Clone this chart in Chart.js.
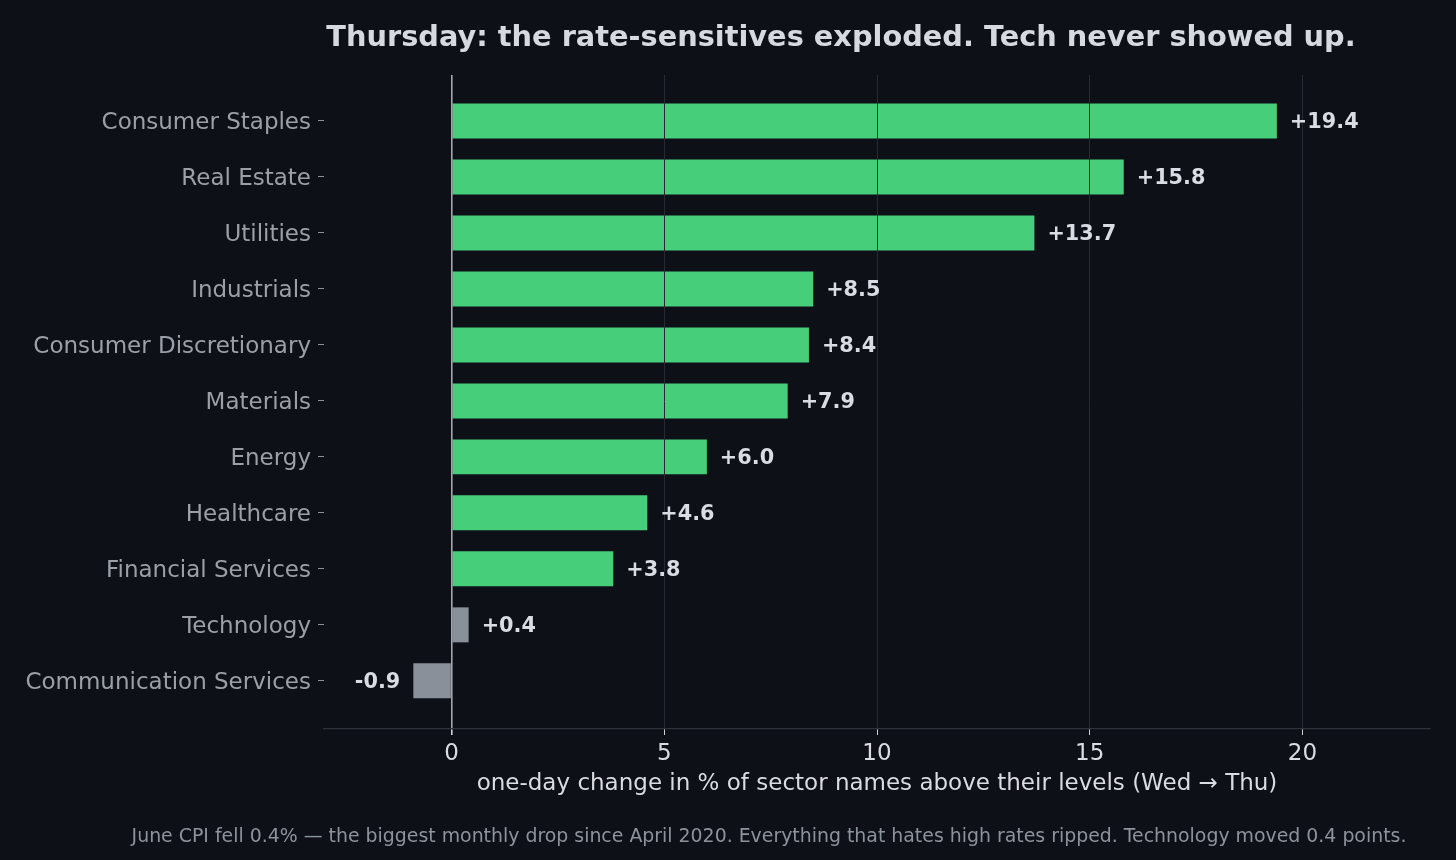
<!DOCTYPE html>
<html>
<head>
<meta charset="utf-8">
<title>Thursday sector breadth</title>
<script src="https://cdn.jsdelivr.net/npm/chart.js@4.4.1/dist/chart.umd.min.js"></script>
<style>
    html, body { margin: 0; padding: 0; background: #0d1017; }
    canvas { display: block; }
</style>
</head>
<body>
<canvas id="sectorChart" width="1456" height="860"></canvas>
<script>
// Data
const sectors = [
    'Consumer Staples', 'Real Estate', 'Utilities', 'Industrials',
    'Consumer Discretionary', 'Materials', 'Energy', 'Healthcare',
    'Financial Services', 'Technology', 'Communication Services'
];
const changes = [19.4, 15.8, 13.7, 8.5, 8.4, 7.9, 6.0, 4.6, 3.8, 0.4, -0.9];
const mutedSectors = ['Technology', 'Communication Services'];
const xTicks = [0, 5, 10, 15, 20];

const titleText = 'Thursday: the rate-sensitives exploded. Tech never showed up.';
const xAxisTitle = 'one-day change in % of sector names above their levels (Wed \u2192 Thu)';
const footnote = 'June CPI fell 0.4% \u2014 the biggest monthly drop since April 2020. Everything that hates high rates ripped. Technology moved 0.4 points.';

const FONT = "'DejaVu Sans', 'Noto Sans', sans-serif";
const BG = '#0d1017';
const GREEN = '#46ce7a';
const GREY = '#8a9099';

// paint background + title + footnote
const decorPlugin = {
    id: 'decor',
    beforeDraw(chart) {
        const ctx = chart.ctx;
        ctx.save();
        ctx.fillStyle = BG;
        ctx.fillRect(0, 0, chart.width, chart.height);
        ctx.restore();
    },
    afterDraw(chart) {
        const ctx = chart.ctx;
        ctx.save();
        ctx.textAlign = 'center';
        ctx.textBaseline = 'middle';
        ctx.fillStyle = '#d6dae0';
        ctx.font = `bold 28.8px ${FONT}`;
        ctx.fillText(titleText, 841, 39);
        ctx.fillStyle = '#8d939b';
        ctx.font = `18.9px ${FONT}`;
        ctx.fillText(footnote, 769, 837);
        ctx.restore();
    }
};

// value labels next to each bar (drawn last so they sit over the grid)
const valueLabels = {
    id: 'valueLabels',
    afterDraw(chart) {
        const ctx = chart.ctx;
        const meta = chart.getDatasetMeta(0);
        ctx.save();
        ctx.font = `bold 20.8px ${FONT}`;
        ctx.fillStyle = '#d8dce3';
        ctx.textBaseline = 'middle';
        meta.data.forEach((bar, i) => {
            const v = changes[i];
            const txt = (v >= 0 ? '+' : '') + v.toFixed(1);
            if (v >= 0) {
                ctx.textAlign = 'left';
                ctx.fillText(txt, bar.x + 13, bar.y + 1.5);
            } else {
                ctx.textAlign = 'right';
                ctx.fillText(txt, bar.x - 13, bar.y + 1.5);
            }
        });
        ctx.restore();
    }
};

const points = sectors.map((s, i) => ({ x: changes[i], y: i }));

new Chart(document.getElementById('sectorChart'), {
    type: 'bar',
    data: {
        datasets: [{
            data: points,
            backgroundColor: ctx => mutedSectors.includes(sectors[ctx.dataIndex]) ? GREY : GREEN,
            borderWidth: 0,
            categoryPercentage: 1,
            barPercentage: 0.625
        }]
    },
    options: {
        indexAxis: 'y',
        responsive: false,
        animation: false,
        layout: { padding: { top: 75, right: 26, bottom: 0, left: 0 } },
        plugins: {
            legend: { display: false },
            tooltip: { enabled: false }
        },
        scales: {
            x: {
                type: 'linear',
                min: -3,
                max: 23,
                afterBuildTicks: scale => { scale.ticks = xTicks.map(v => ({ value: v })); },
                afterFit: scale => { scale.height = 131; },
                ticks: {
                    color: '#d9dce0',
                    font: { family: FONT, size: 23 },
                    padding: 5
                },
                grid: {
                    z: 1,
                    color: ctx => ctx.tick && ctx.tick.value === 0 ? '#a3a7ad' : '#262b33',
                    lineWidth: ctx => ctx.tick && ctx.tick.value === 0 ? 1.6 : 1,
                    tickColor: '#cfd3d8',
                    tickLength: 6,
                    drawTicks: true
                },
                border: { display: true, z: 1, color: '#2e333b', width: 1.2 },
                title: {
                    display: true,
                    text: xAxisTitle,
                    color: '#d9dce0',
                    font: { family: FONT, size: 23 },
                    padding: { top: 4, bottom: 62 }
                }
            },
            y: {
                type: 'linear',
                reverse: true,
                offset: false,
                min: -0.82,
                max: 10.86,
                afterBuildTicks: scale => { scale.ticks = sectors.map((s, i) => ({ value: i })); },
                afterFit: scale => { scale.width = 324; },
                ticks: {
                    color: '#9aa0a6',
                    font: { family: FONT, size: 23 },
                    padding: 7,
                    labelOffset: 2,
                    callback: v => sectors[v]
                },
                grid: {
                    offset: false,
                    drawOnChartArea: false,
                    drawTicks: true,
                    tickLength: 6,
                    tickColor: '#8a9099'
                },
                border: { display: false }
            }
        }
    },
    plugins: [decorPlugin, valueLabels]
});
</script>
</body>
</html>
